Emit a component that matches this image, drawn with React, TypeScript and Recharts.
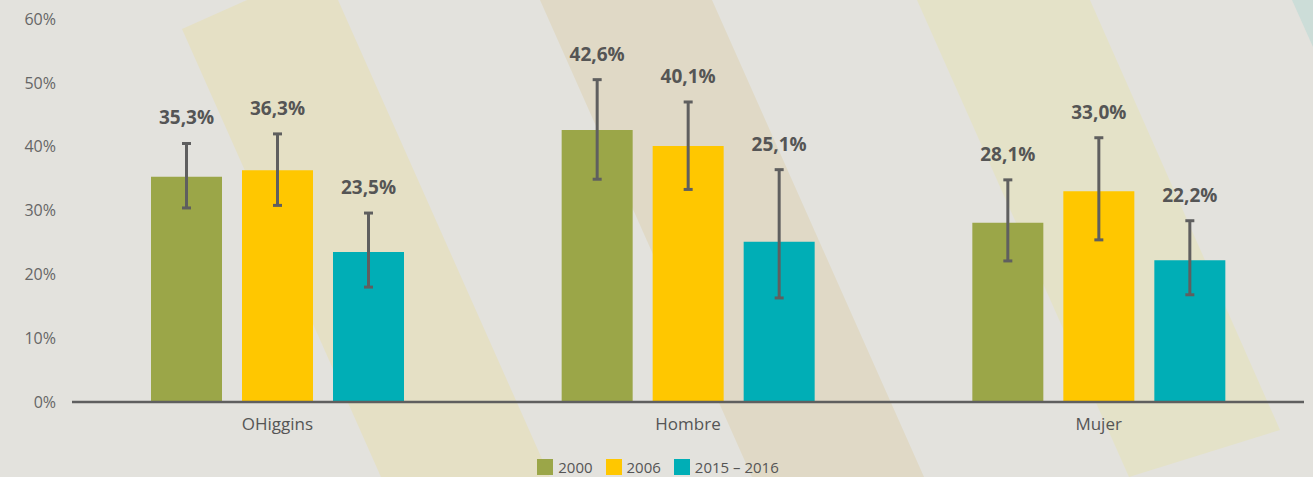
import { BarChart, Bar, XAxis, YAxis, ErrorBar, LabelList, Legend } from "recharts";

const categories = ["OHiggins", "Hombre", "Mujer"];
const seriesNames = ["2000", "2006", "2015 – 2016"];
const seriesColors = ["#9BA648", "#FFC700", "#00AEB6"];

const values2000 = [35.3, 42.6, 28.1];
const values2006 = [36.3, 40.1, 33.0];
const values2015 = [23.5, 25.1, 22.2];

// confidence intervals (low / high)
const low2000 = [30.4, 34.9, 22.1];
const high2000 = [40.5, 50.5, 34.8];
const low2006 = [30.8, 33.3, 25.4];
const high2006 = [42.0, 47.0, 41.4];
const low2015 = [18.0, 16.3, 16.8];
const high2015 = [29.6, 36.4, 28.4];

const yTicks = [0, 10, 20, 30, 40, 50, 60];

const seriesValues = [values2000, values2006, values2015];
const seriesLow = [low2000, low2006, low2015];
const seriesHigh = [high2000, high2006, high2015];

const data = categories.map((name, i) => {
  const row: any = { name };
  seriesValues.forEach((vals, s) => {
    row["s" + s] = vals[i];
    row["e" + s] = [vals[i] - seriesLow[s][i], seriesHigh[s][i] - vals[i]];
  });
  return row;
});

const fmt = (v: number) => v.toFixed(1).replace(".", ",") + "%";

const makeLabel = (s: number) => (props: any) => {
  const { x, y, width, height, value, index } = props;
  if (value == null) return null;
  const perUnit = height / value;
  const errTop = y + height - seriesHigh[s][index] * perUnit;
  return (
    <text
      x={x + width / 2}
      y={errTop - 26}
      textAnchor="middle"
      dominantBaseline="central"
      fill="#555555"
      fontSize={19}
      fontWeight={700}
    >
      {fmt(value)}
    </text>
  );
};

const LegendContent = () => (
  <div
    style={{
      height: 30,
      boxSizing: "border-box",
      paddingTop: 12,
      display: "flex",
      justifyContent: "center",
      alignItems: "flex-start",
      gap: 13,
      paddingLeft: 12,
    }}
  >
    {seriesNames.map((n, i) => (
      <div key={n} style={{ display: "flex", alignItems: "center", gap: 5 }}>
        <div style={{ width: 16, height: 16, background: seriesColors[i] }} />
        <span style={{ fontSize: 15, color: "#555555", lineHeight: "16px" }}>{n}</span>
      </div>
    ))}
  </div>
);

export default function App() {
  return (
    <div
      style={{
        position: "absolute",
        left: 0,
        top: 0,
        width: 1313,
        height: 477,
        background: "#E3E2DD",
        overflow: "hidden",
        fontFamily: "'Open Sans', sans-serif",
      }}
    >
      <svg width={1313} height={477} style={{ position: "absolute", left: 0, top: 0 }}>
        <polygon points="182,29 247,0 338,0 550,477 381,477" fill="#E5E0C5" />
        <polygon points="540,0 712,0 924,477 752,477" fill="#E0D9C6" />
        <polygon points="917,0 1090,0 1280,430 1129,477" fill="#E4E2C8" />
        <polygon points="1292,0 1313,0 1313,47" fill="#CCDDD8" />
      </svg>
      <div style={{ position: "absolute", left: 0, top: 0 }}>
        <BarChart
          width={1313}
          height={477}
          data={data}
          margin={{ top: 19, right: 9, left: 0, bottom: 0 }}
          barGap={20}
          barSize={71}
        >
          <XAxis
            dataKey="name"
            height={45}
            tickLine={false}
            tickSize={0}
            tickMargin={16}
            axisLine={{ stroke: "#5F5F5F", strokeWidth: 2.5 }}
            tick={{ fill: "#555555", fontSize: 17 }}
          />
          <YAxis
            width={72}
            domain={[0, 60]}
            ticks={yTicks}
            interval={0}
            tickLine={false}
            axisLine={false}
            tickSize={0}
            tickMargin={16}
            tickFormatter={(v: number) => v + "%"}
            tick={{ fill: "#666666", fontSize: 16 }}
          />
          <Legend verticalAlign="bottom" content={<LegendContent />} />
          {seriesNames.map((n, s) => (
            <Bar key={n} dataKey={"s" + s} name={n} fill={seriesColors[s]} isAnimationActive={false}>
              <ErrorBar dataKey={"e" + s} width={4.5} strokeWidth={3} stroke="#5F5F5F" />
              <LabelList dataKey={"s" + s} content={makeLabel(s)} />
            </Bar>
          ))}
        </BarChart>
      </div>
    </div>
  );
}
